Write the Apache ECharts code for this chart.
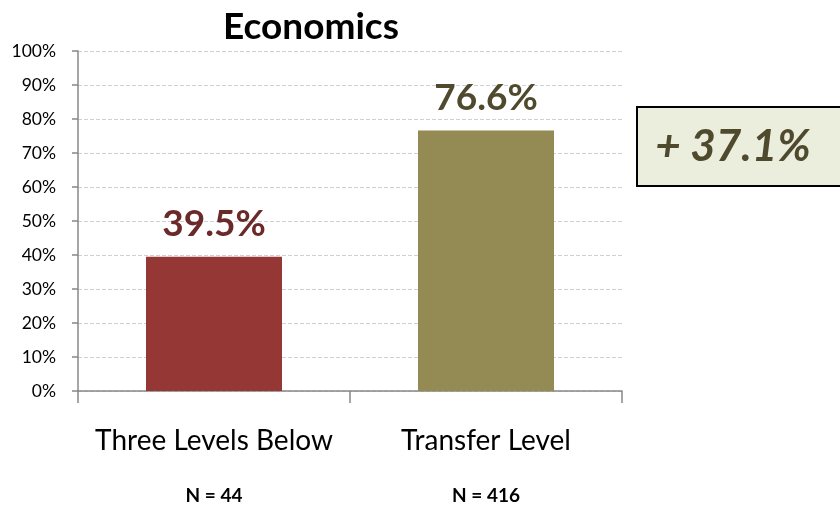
<!DOCTYPE html>
<html>
<head>
<meta charset="utf-8">
<script src="https://cdn.jsdelivr.net/npm/echarts@6/dist/echarts.min.js"></script>
<style>
  html, body { margin: 0; padding: 0; background: #fff; }
  #main { width: 840px; height: 508px; }
</style>
</head>
<body>
<div id="main"></div>
<script>
  // 数据
  var categories = ['Three Levels Below', 'Transfer Level'];
  var nValues = [44, 416];
  var rates = [39.5, 76.6];
  var barColors = ['#953735', '#948a54'];
  var labelColors = ['#6b2a2a', '#4f4a2e'];
  var diffText = '+ 37.1%';
  var yTicks = [0, 10, 20, 30, 40, 50, 60, 70, 80, 90, 100];

  var font = 'Lato, "Open Sans", sans-serif';
  var chart = echarts.init(document.getElementById('main'));

  chart.setOption({
    backgroundColor: '#fff',
    title: {
      text: 'Economics',
      left: 306,
      textAlign: 'center',
      top: 4,
      textStyle: { fontFamily: font, fontSize: 37, fontWeight: 'bold', color: '#000' }
    },
    grid: { left: 78, right: 218, top: 51, bottom: 117, outerBoundsMode: 'none' },
    xAxis: {
      type: 'category',
      data: categories,
      axisLine: { lineStyle: { color: '#888', width: 1.5 } },
      axisTick: { show: true, length: 12, alignWithLabel: false, lineStyle: { color: '#888', width: 1.5 } },
      axisLabel: {
        margin: 22,
        interval: 0,
        formatter: function (v, i) {
          return '{c|' + v + '}\n{n|N = ' + nValues[i] + '}';
        },
        rich: {
          c: { fontFamily: font, fontSize: 28, color: '#000', lineHeight: 55 },
          n: { fontFamily: font, fontSize: 19, fontWeight: 'bold', color: '#000', lineHeight: 55 }
        }
      }
    },
    yAxis: {
      type: 'value',
      min: 0,
      max: 100,
      interval: 10,
      axisLine: { show: true, lineStyle: { color: '#888', width: 1.5 } },
      axisTick: { show: true, length: 6, lineStyle: { color: '#888', width: 1.5 } },
      axisLabel: {
        margin: 22,
        fontFamily: font,
        fontSize: 17.5,
        color: '#000',
        formatter: function (v) { return yTicks.indexOf(v) >= 0 ? v + '%' : ''; }
      },
      splitLine: { show: true, lineStyle: { color: '#d0d0d0', type: 'dashed', width: 1 } }
    },
    series: [{
      type: 'bar',
      barWidth: '50%',
      data: rates.map(function (r, i) {
        return {
          value: r,
          itemStyle: { color: barColors[i] },
          label: { color: labelColors[i] }
        };
      }),
      label: {
        show: true,
        position: 'top',
        distance: 14,
        fontFamily: font,
        fontSize: 37,
        fontWeight: 'bold',
        formatter: function (p) { return p.value.toFixed(1) + '%'; }
      }
    }],
    graphic: [{
      type: 'group',
      left: 636,
      top: 106,
      children: [{
        type: 'rect',
        shape: { x: 0, y: 0, width: 210, height: 79 },
        style: { fill: '#ebeedd', stroke: '#000', lineWidth: 2 }
      }, {
        type: 'text',
        x: 96,
        y: 40,
        style: {
          text: diffText,
          fontFamily: font,
          fontSize: 44,
          fontWeight: 'bold',
          fontStyle: 'italic',
          fill: '#4f4a2e',
          align: 'center',
          verticalAlign: 'middle'
        }
      }]
    }]
  });
</script>
</body>
</html>
